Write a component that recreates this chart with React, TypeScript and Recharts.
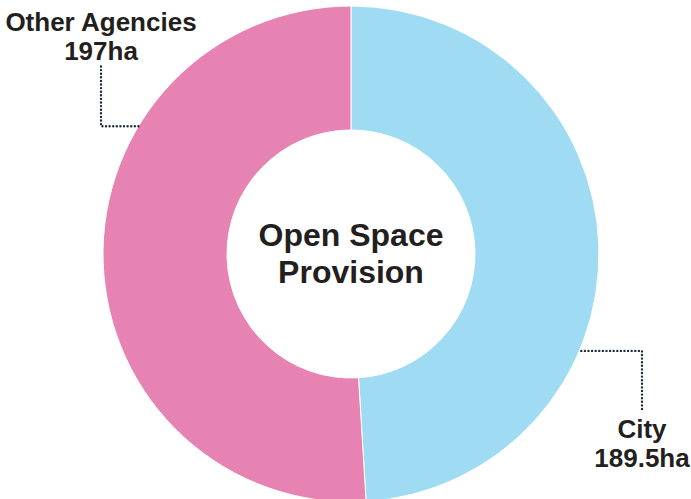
import React from "react";
import { PieChart, Pie, Cell } from "recharts";

const names = ["City", "Other Agencies"];
const hectares = [189.5, 197];
const colors = ["#9fdbf2", "#e783b3"];
const titleLines = ["Open Space", "Provision"];

const data = names.map((name, i) => ({ name, value: hectares[i] }));

const FONT = "'Liberation Sans', Arial, Helvetica, sans-serif";
const INK = "#231f20";
const DOTS = "#1d2b3a";

const dotStyle = {
    stroke: DOTS,
    strokeWidth: 2.4,
    strokeDasharray: "0 3.6",
    strokeLinecap: "round" as const,
    fill: "none",
};

const TwoLines = ({ x, y, lines, size, gap }: { x: number; y: number; lines: string[]; size: number; gap: number }) => (
    <>
        {lines.map((line, i) => (
            <text
                key={line}
                x={x}
                y={y + i * gap}
                textAnchor="middle"
                fontFamily={FONT}
                fontWeight="bold"
                fontSize={size}
                fill={INK}
            >
                {line}
            </text>
        ))}
    </>
);

// leader line + label placed relative to the pie centre
const renderLabel = (props: any) => {
    const { cx, cy, outerRadius, index, payload } = props;
    const lines = [payload.name, `${payload.value}ha`];
    if (index === 0) {
        // City: bottom right, plus the centre title
        const a = (-23 * Math.PI) / 180;
        const sx = cx + outerRadius * Math.cos(a) + 2;
        const sy = cy - outerRadius * Math.sin(a);
        const lx = cx + 291;
        return (
            <g>
                <TwoLines x={cx} y={cy - 8} lines={titleLines} size={32} gap={37} />
                <path d={`M${sx},${sy} H${lx} V${sy + 60}`} style={dotStyle} />
                <TwoLines x={lx} y={sy + 87} lines={lines} size={26} gap={29} />
            </g>
        );
    }
    const a = (149 * Math.PI) / 180;
    const sx = cx + outerRadius * Math.cos(a);
    const sy = cy - outerRadius * Math.sin(a);
    const lx = cx - 250;
    return (
        <g>
            <path d={`M${sx},${sy} H${lx} V${sy - 61}`} style={dotStyle} />
            <TwoLines x={lx} y={sy - 95} lines={lines} size={26} gap={29} />
        </g>
    );
};

export default function App() {
    return (
        <div style={{ position: "absolute", left: 0, top: 0, width: 691, height: 499, background: "#fff" }}>
            <PieChart width={691} height={499} margin={{ top: 0, right: 0, bottom: 0, left: 0 }}>
                <Pie
                    data={data}
                    dataKey="value"
                    cx={351}
                    cy={254}
                    innerRadius={124}
                    outerRadius={248}
                    startAngle={90}
                    endAngle={-270}
                    stroke="#ffffff"
                    strokeWidth={1}
                    label={renderLabel}
                    labelLine={false}
                    isAnimationActive={false}
                >
                    {data.map((d, i) => (
                        <Cell key={d.name} fill={colors[i]} />
                    ))}
                </Pie>
            </PieChart>
        </div>
    );
}
